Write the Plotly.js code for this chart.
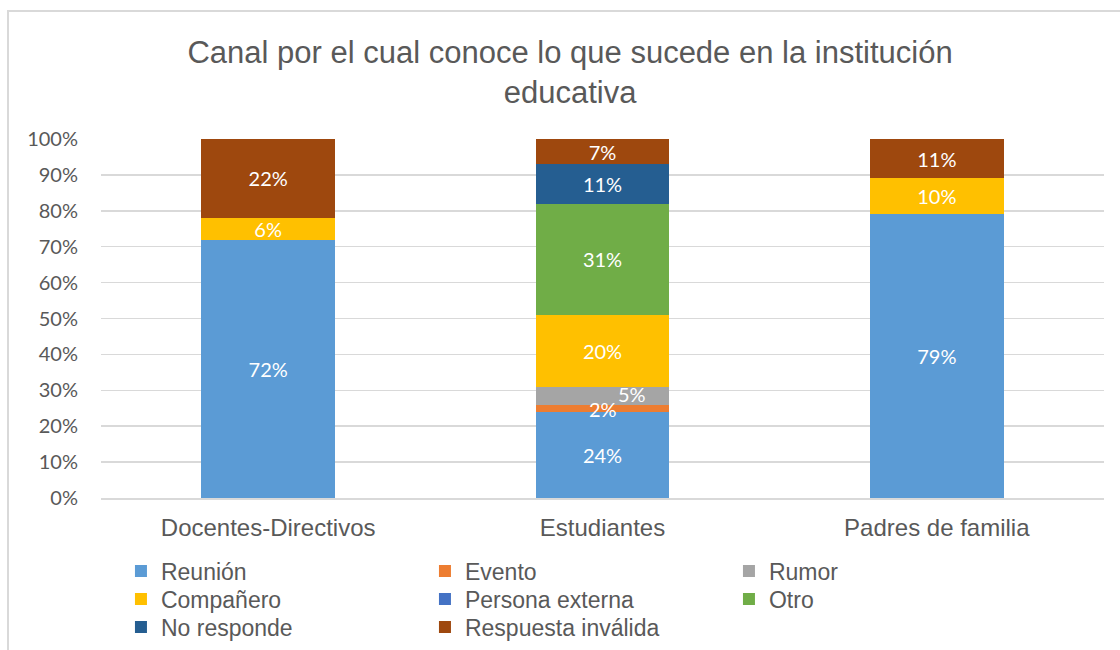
<!DOCTYPE html>
<html>
<head>
<meta charset="utf-8">
<script src="https://cdn.plot.ly/plotly-3.0.1.min.js"></script>
<style>
  html, body { margin: 0; padding: 0; background: #ffffff; }
  #wrap { position: relative; width: 1120px; height: 650px; overflow: hidden; }
  #chart { position: absolute; left: 0; top: 0; width: 1120px; height: 650px; }
  #frame { position: absolute; left: 7px; top: 10px; width: 1130px; height: 660px;
           border-left: 2px solid #d9d9d9; border-top: 2px solid #d9d9d9; pointer-events: none; }
</style>
</head>
<body>
<div id="wrap">
  <div id="chart"></div>
  <div id="frame"></div>
</div>
<script>
// ---- Data ----
const categories = ["Docentes-Directivos", "Estudiantes", "Padres de familia"];
const seriesNames = ["Reunión", "Evento", "Rumor", "Compañero", "Persona externa", "Otro", "No responde", "Respuesta inválida"];
const reunion          = [72, 24, 79];
const evento           = [0, 2, 0];
const rumor            = [0, 5, 0];
const companero        = [6, 20, 10];
const personaExterna   = [0, 0, 0];
const otro             = [0, 31, 0];
const noResponde       = [0, 11, 0];
const respuestaInvalida= [22, 7, 11];
const yTicks = [0, 10, 20, 30, 40, 50, 60, 70, 80, 90, 100];

const seriesValues = [reunion, evento, rumor, companero, personaExterna, otro, noResponde, respuestaInvalida];
const colors = ["#5B9BD5", "#ED7D31", "#A5A5A5", "#FFC000", "#4472C4", "#70AD47", "#255E91", "#9E480E"];
const legendIds = ["legend", "legend", "legend", "legend2", "legend2", "legend2", "legend3", "legend3"];

const labelFont = { family: "Lato, 'Open Sans', sans-serif", size: 20, color: "#ffffff" };

// thin segments whose labels are drawn on top as annotations (series index -> pixel shift)
const overlayLabels = { 1: { xshift: 0, yshift: -1 }, 2: { xshift: 29, yshift: 2 } };

const traces = seriesNames.map((name, i) => ({
  type: "bar",
  name: name,
  x: categories,
  y: seriesValues[i],
  marker: { color: colors[i] },
  text: seriesValues[i].map(v => (v > 0 && !(i in overlayLabels)) ? v + "%" : ""),
  textposition: "inside",
  insidetextanchor: "middle",
  textfont: labelFont,
  hoverinfo: "x+y+name",
  legend: legendIds[i],
  showlegend: true
}));

const annotations = [];
Object.keys(overlayLabels).forEach(key => {
  const s = Number(key);
  categories.forEach((c, ci) => {
    const v = seriesValues[s][ci];
    if (v > 0) {
      let base = 0;
      for (let k = 0; k < s; k++) base += seriesValues[k][ci];
      annotations.push({
        x: c, y: base + v / 2, xref: "x", yref: "y",
        text: v + "%", showarrow: false,
        xshift: overlayLabels[s].xshift, yshift: overlayLabels[s].yshift,
        font: labelFont
      });
    }
  });
});

const legendBase = {
  orientation: "h",
  xref: "container", yref: "container",
  x: 0.108, xanchor: "left",
  yanchor: "middle",
  entrywidth: 259, entrywidthmode: "pixels",
  font: { family: "'Liberation Sans', Arial, sans-serif", size: 23, color: "#595959" },
  bgcolor: "rgba(0,0,0,0)",
  traceorder: "normal"
};

const layout = {
  width: 1120, height: 650,
  paper_bgcolor: "rgba(0,0,0,0)",
  plot_bgcolor: "rgba(0,0,0,0)",
  barmode: "stack",
  bargap: 0.6,
  margin: { l: 101, r: 16, t: 139, b: 152, autoexpand: false },
  title: {
    text: "Canal por el cual conoce lo que sucede en la institución<br>educativa",
    font: { family: "'Liberation Sans', Arial, sans-serif", size: 31, color: "#595959" },
    x: 0.509, xref: "container", xanchor: "center",
    y: 0.903, yref: "container", yanchor: "top"
  },
  xaxis: {
    type: "category",
    tickfont: { family: "'Liberation Sans', Arial, sans-serif", size: 24, color: "#595959" },
    showgrid: false,
    showline: true, linecolor: "#d9d9d9", linewidth: 1.5,
    ticks: "",
    ticklabelstandoff: 8,
    fixedrange: true
  },
  yaxis: {
    range: [0, 100],
    tickvals: yTicks,
    ticktext: yTicks.map(v => v + "%"),
    tickfont: { family: "Lato, 'Open Sans', sans-serif", size: 20, color: "#595959" },
    gridcolor: "#d9d9d9", gridwidth: 1.5,
    zeroline: false,
    ticks: "",
    ticklabelstandoff: 22,
    fixedrange: true
  },
  uniformtext: { mode: "show", minsize: 20 },
  annotations: annotations,
  legend: Object.assign({}, legendBase, { y: 1 - 571 / 650 }),
  legend2: Object.assign({}, legendBase, { y: 1 - 599 / 650 }),
  legend3: Object.assign({}, legendBase, { y: 1 - 627 / 650 }),
  showlegend: true
};

Plotly.newPlot("chart", traces, layout, { displayModeBar: false, staticPlot: true });
</script>
</body>
</html>
